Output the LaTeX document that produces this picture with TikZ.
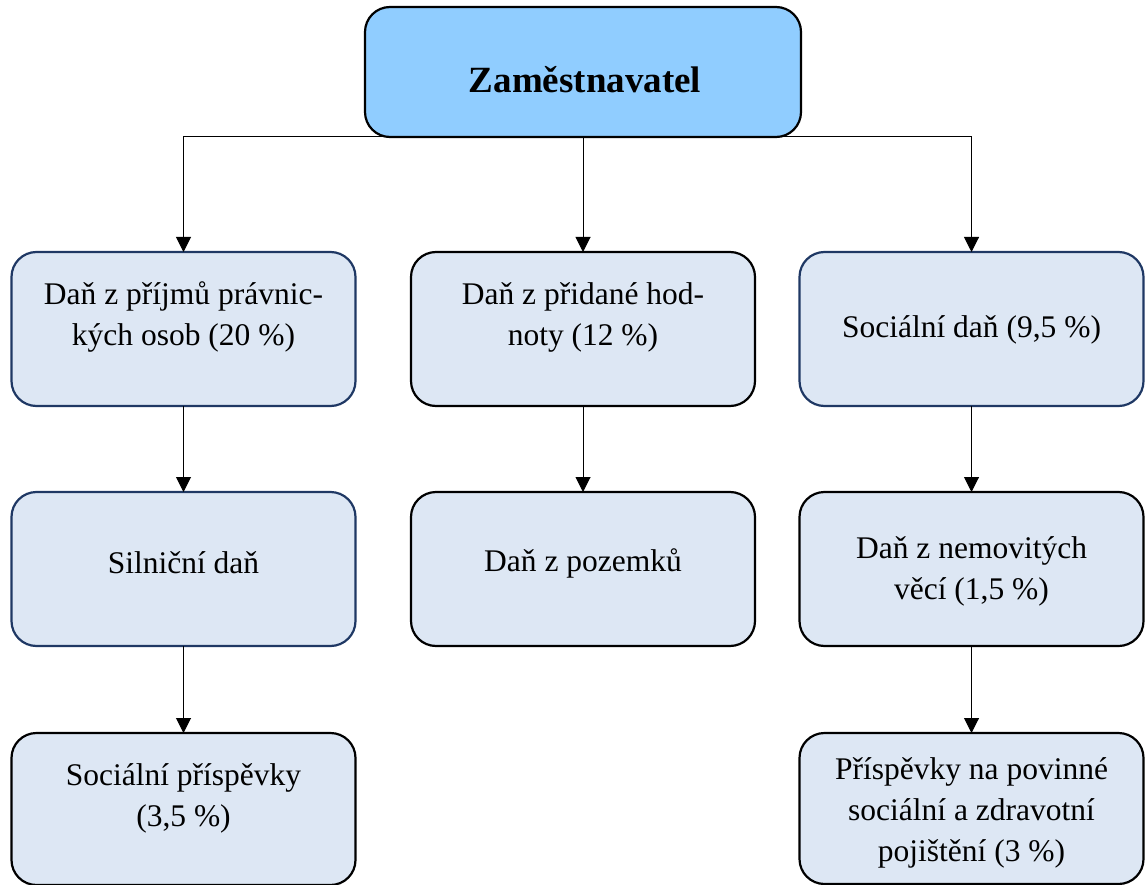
\documentclass[tikz,border=0pt]{standalone}
\usepackage{fontspec}
\setmainfont{Liberation Serif}
\usetikzlibrary{arrows.meta}

\definecolor{headfill}{RGB}{144,205,255}
\definecolor{boxfill}{RGB}{221,231,244}
\definecolor{navyline}{RGB}{31,56,100}

\tikzset{
  taxbox/.style={draw=black, line width=2.2pt, fill=boxfill, rounded corners=25pt,
    inner sep=0pt, outer sep=0pt, minimum width=#1},
  taxbox/.default=344pt,
  headbox/.style={draw=black, line width=2.2pt, fill=headfill, rounded corners=25pt,
    inner sep=0pt, outer sep=0pt, minimum width=436pt, minimum height=130pt},
  navy/.style={draw=navyline},
  label/.style={align=center, font=\fontsize{31.5}{41}\selectfont, inner sep=0pt},
  conn/.style={line width=1pt, -{Triangle[width=15pt,length=15pt]}}
}

\begin{document}
\begin{tikzpicture}[x=1pt,y=-1pt]
\useasboundingbox (0,0) rectangle (1145,885);

% employer
\node[headbox] (top) at (583,72) {};
\node[font=\fontsize{37}{44}\selectfont\bfseries, inner sep=0pt] (toptext) at (585,80) {Zaměstnavatel};

% first row
\node[taxbox, navy, minimum height=154pt] (b11) at (183.5,329) {};
\node[taxbox, minimum height=154pt] (b12) at (583,329) {};
\node[taxbox, navy, minimum height=154pt] (b13) at (971.5,329) {};
\node[label] (t11) at (183.5,317) {Daň z příjmů právnic-\\kých osob (20~\%)};
\node[label] (t12) at (583,317) {Daň z přidané hod-\\noty (12~\%)};
\node[label] (t13) at (971.5,330) {Sociální daň (9,5~\%)};

% second row
\node[taxbox, navy, minimum height=154pt] (b21) at (183.5,569) {};
\node[taxbox, minimum height=154pt] (b22) at (583,569) {};
\node[taxbox, minimum height=154pt] (b23) at (971.5,569) {};
\node[label] (t21) at (183.5,563) {Silniční daň};
\node[label] (t22) at (583,563) {Daň z pozemků};
\node[label] (t23) at (971.5,571) {Daň z nemovitých\\věcí (1,5~\%)};

% third row
\node[taxbox, minimum height=152pt] (b31) at (183.5,809) {};
\node[taxbox, minimum height=151pt] (b33) at (971.5,808.5) {};
\node[label] (t31) at (183.5,798) {Sociální příspěvky\\(3,5~\%)};
\node[label] (t33) at (971.5,813) {Příspěvky na povinné\\sociální a zdravotní\\pojištění (3~\%)};

% connectors
\draw[conn] (top.south) -| (b11.north);
\draw[conn] (top.south) -- (b12.north);
\draw[conn] (top.south) -| (b13.north);
\draw[conn] (b11.south) -- (b21.north);
\draw[conn] (b12.south) -- (b22.north);
\draw[conn] (b13.south) -- (b23.north);
\draw[conn] (b21.south) -- (b31.north);
\draw[conn] (b23.south) -- (b33.north);
\end{tikzpicture}
\end{document}
